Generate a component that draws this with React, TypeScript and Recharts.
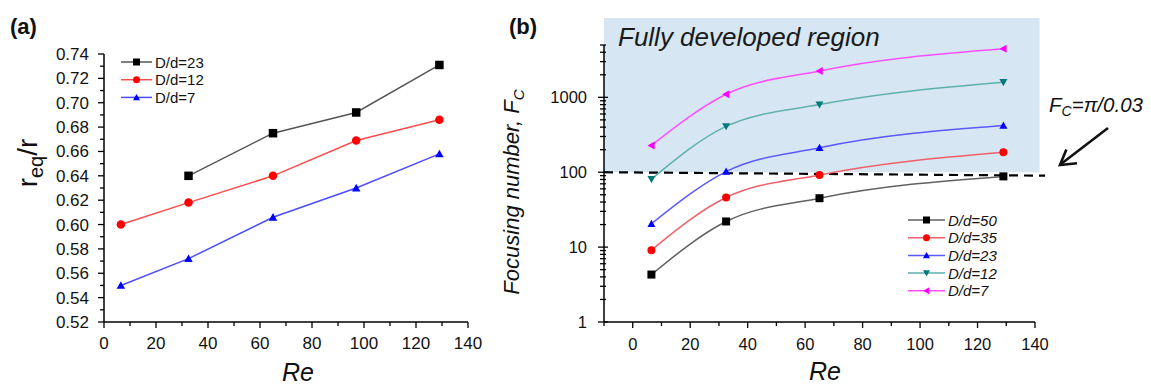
import { LineChart, Line, XAxis, YAxis, ReferenceArea, ReferenceLine, Legend } from "recharts";

// panel (a): r_eq/r vs Re
const reA = [6.5, 32.5, 65, 97, 129];
const dd23A = [null, 0.64, 0.675, 0.692, 0.731];
const dd12A = [0.6, 0.618, 0.64, 0.669, 0.686];
const dd7A = [0.55, 0.572, 0.606, 0.63, 0.658];

// panel (b): focusing number vs Re
const reB = [6.5, 32.5, 65, 129];
const dd50B = [4.3, 22, 45, 88];
const dd35B = [9.1, 46, 92, 185];
const dd23B = [20.5, 102, 212, 420];
const dd12B = [81, 410, 800, 1590];
const dd7B = [228, 1100, 2250, 4450];

const xTicksA = [0, 10, 20, 30, 40, 50, 60, 70, 80, 90, 100, 110, 120, 130, 140];
const yTicksA = [0.52, 0.53, 0.54, 0.55, 0.56, 0.57, 0.58, 0.59, 0.6, 0.61, 0.62, 0.63, 0.64, 0.65, 0.66, 0.67, 0.68, 0.69, 0.7, 0.71, 0.72, 0.73, 0.74];
const xTicksB = [-10, 0, 10, 20, 30, 40, 50, 60, 70, 80, 90, 100, 110, 120, 130, 140];
const yTicksB = [1, 2, 3, 4, 5, 6, 7, 8, 9, 10, 20, 30, 40, 50, 60, 70, 80, 90, 100, 200, 300, 400, 500, 600, 700, 800, 900, 1000, 2000, 3000, 4000, 5000];
const yMajorB = [1, 10, 100, 1000];

const FONT = '"Liberation Sans", Arial, sans-serif';

const seriesA = [
  { key: "d23", name: "D/d=23", values: dd23A, line: "#555555", mark: "#000000", shape: "square" },
  { key: "d12", name: "D/d=12", values: dd12A, line: "#ff4d4d", mark: "#ff0000", shape: "circle" },
  { key: "d7", name: "D/d=7", values: dd7A, line: "#4d4dff", mark: "#0000ff", shape: "up" },
];

const seriesB = [
  { key: "d50", name: "D/d=50", values: dd50B, line: "#606060", mark: "#000000", shape: "square" },
  { key: "d35", name: "D/d=35", values: dd35B, line: "#f0606a", mark: "#ff0000", shape: "circle" },
  { key: "d23", name: "D/d=23", values: dd23B, line: "#5a5aff", mark: "#0000ff", shape: "up" },
  { key: "d12", name: "D/d=12", values: dd12B, line: "#5fb0ad", mark: "#007a78", shape: "down" },
  { key: "d7", name: "D/d=7", values: dd7B, line: "#ff4dff", mark: "#ff00ff", shape: "left" },
];

const dataA = reA.map((re, i) => {
  const row: any = { re };
  seriesA.forEach((s) => (row[s.key] = s.values[i]));
  return row;
});

const dataB = reB.map((re, i) => {
  const row: any = { re };
  seriesB.forEach((s) => (row[s.key] = s.values[i]));
  return row;
});

const Marker = ({ cx, cy, shape, color, size }: any) => {
  const h = size / 2;
  if (shape === "square") return <rect x={cx - h} y={cy - h} width={size} height={size} fill={color} />;
  if (shape === "circle") return <circle cx={cx} cy={cy} r={h} fill={color} />;
  let pts = "";
  if (shape === "up") pts = `${cx},${cy - h} ${cx + h},${cy + h * 0.8} ${cx - h},${cy + h * 0.8}`;
  if (shape === "down") pts = `${cx},${cy + h} ${cx + h},${cy - h * 0.8} ${cx - h},${cy - h * 0.8}`;
  if (shape === "left") pts = `${cx - h},${cy} ${cx + h * 0.8},${cy - h} ${cx + h * 0.8},${cy + h}`;
  return <polygon points={pts} fill={color} />;
};

const makeDot = (s: any, size: number) => (p: any) => {
  if (p.cx == null || p.cy == null || p.value == null) return <g key={`${s.key}-${p.index}`} />;
  return (
    <g key={`${s.key}-${p.index}`}>
      <Marker cx={p.cx} cy={p.cy} shape={s.shape} color={s.mark} size={size} />
    </g>
  );
};

const XTickA = ({ x, y, payload }: any) => {
  const v = payload.value;
  const major = v % 20 === 0;
  return (
    <g>
      <line x1={x} x2={x} y1={y} y2={y + (major ? 6 : 4)} stroke="#000" strokeWidth={1.3} />
      {major && (
        <text x={x} y={y + 27} textAnchor="middle" fontSize={17} fontFamily={FONT} fill="#111">
          {v}
        </text>
      )}
    </g>
  );
};

const YTickA = ({ x, y, payload }: any) => {
  const v = payload.value;
  const major = Math.round(v * 100) % 2 === 0;
  return (
    <g>
      <line x1={x} x2={x - (major ? 6 : 4)} y1={y} y2={y} stroke="#000" strokeWidth={1.3} />
      {major && (
        <text x={x - 15} y={y + 6} textAnchor="end" fontSize={17} fontFamily={FONT} fill="#111">
          {v.toFixed(2)}
        </text>
      )}
    </g>
  );
};

const XTickB = ({ x, y, payload }: any) => {
  const v = payload.value;
  const major = v % 20 === 0;
  return (
    <g>
      <line x1={x} x2={x} y1={y} y2={y + (major ? 6 : 4)} stroke="#000" strokeWidth={1.3} />
      {major && (
        <text x={x} y={y + 28} textAnchor="middle" fontSize={16.5} fontFamily={FONT} fill="#111">
          {v}
        </text>
      )}
    </g>
  );
};

const YTickB = ({ x, y, payload }: any) => {
  const v = payload.value;
  const major = yMajorB.includes(v);
  return (
    <g>
      <line x1={x - (major ? 6 : 4)} x2={x + (major ? 4 : 2)} y1={y} y2={y} stroke="#000" strokeWidth={1.3} />
      {major && (
        <text x={x - 17} y={y + 6} textAnchor="end" fontSize={16.5} fontFamily={FONT} fill="#111">
          {v}
        </text>
      )}
    </g>
  );
};

const LegendBox = ({ series, italic, lineLen, size }: any) => (
  <svg width={110} height={series.length * 17.7 + 4} style={{ display: "block" }}>
    {series.map((s: any, i: number) => {
      const y = 9 + i * 17.7;
      return (
        <g key={s.key}>
          <line x1={0} x2={lineLen} y1={y} y2={y} stroke={s.line} strokeWidth={1.5} />
          <Marker cx={lineLen / 2} cy={y} shape={s.shape} color={s.mark} size={size} />
          <text
            x={lineLen + 3}
            y={y + 5.5}
            fontSize={15}
            fontStyle={italic ? "italic" : "normal"}
            fontFamily={FONT}
            fill="#111"
          >
            {s.name}
          </text>
        </g>
      );
    })}
  </svg>
);

export default function App() {
  return (
    <div style={{ position: "absolute", left: 0, top: 0, width: 1151, height: 386, background: "#fff" }}>
      <div style={{ position: "absolute", left: 0, top: 0 }}>
        <LineChart width={500} height={386} data={dataA} margin={{ top: 54, right: 32, left: 0, bottom: 0 }}>
          <XAxis
            dataKey="re"
            type="number"
            domain={[0, 140]}
            ticks={xTicksA}
            interval={0}
            height={64}
            tickSize={0}
            tickMargin={0}
            tickLine={false}
            tick={<XTickA />}
            axisLine={{ stroke: "#000", strokeWidth: 1.5 }}
            allowDataOverflow
          />
          <YAxis
            type="number"
            domain={[0.52, 0.74]}
            ticks={yTicksA}
            interval={0}
            width={104}
            tickSize={0}
            tickMargin={0}
            tickLine={false}
            tick={<YTickA />}
            axisLine={{ stroke: "#000", strokeWidth: 1.5 }}
            allowDataOverflow
          />
          {seriesA.map((s) => (
            <Line
              key={s.key}
              dataKey={s.key}
              name={s.name}
              type="linear"
              stroke={s.line}
              strokeWidth={1.5}
              dot={makeDot(s, 8.5)}
              activeDot={false}
              isAnimationActive={false}
            />
          ))}
          <Legend
            layout="vertical"
            align="center"
            verticalAlign="middle"
            wrapperStyle={{ left: 120.7, top: 53.3, width: 110, right: "auto", bottom: "auto" }}
            content={() => <LegendBox series={seriesA} italic={false} lineLen={31} size={7} />}
          />
        </LineChart>
      </div>

      <div style={{ position: "absolute", left: 480, top: 0 }}>
        <LineChart width={671} height={386} data={dataB} margin={{ top: 45, right: 116, left: 0, bottom: 0 }}>
          <ReferenceArea
            x1={-10}
            x2={141.6}
            y1={100}
            y2={11500}
            fill="#d6e7f3"
            fillOpacity={1}
            stroke="none"
            ifOverflow="visible"
          />
          <XAxis
            dataKey="re"
            type="number"
            domain={[-10, 140]}
            ticks={xTicksB}
            interval={0}
            height={64}
            tickSize={0}
            tickMargin={0}
            tickLine={false}
            tick={<XTickB />}
            axisLine={{ stroke: "#000", strokeWidth: 1.5 }}
            allowDataOverflow
          />
          <YAxis
            type="number"
            scale="log"
            domain={[1, 5000]}
            ticks={yTicksB}
            interval={0}
            width={124}
            tickSize={0}
            tickMargin={0}
            tickLine={false}
            tick={<YTickB />}
            axisLine={{ stroke: "#000", strokeWidth: 1.5 }}
            allowDataOverflow
          />
          <ReferenceLine
            segment={[
              { x: -10, y: 100 },
              { x: 143.5, y: 90 },
            ]}
            stroke="#000"
            strokeWidth={2.2}
            strokeDasharray="9 6"
            ifOverflow="visible"
          />
          {seriesB.map((s) => (
            <Line
              key={s.key}
              dataKey={s.key}
              name={s.name}
              type="monotone"
              stroke={s.line}
              strokeWidth={1.5}
              dot={makeDot(s, 8)}
              activeDot={false}
              isAnimationActive={false}
            />
          ))}
          <Legend
            layout="vertical"
            align="center"
            verticalAlign="middle"
            wrapperStyle={{ left: 428.3, top: 211, width: 110, right: "auto", bottom: "auto" }}
            content={() => <LegendBox series={seriesB} italic={true} lineLen={37} size={7} />}
          />
        </LineChart>
      </div>

      {/* titles and annotations */}
      <svg
        width={1151}
        height={386}
        style={{ position: "absolute", left: 0, top: 0, pointerEvents: "none" }}
        fontFamily={FONT}
      >
        <text x={10} y={34} fontSize={22} fontWeight="bold" fill="#111">(a)</text>
        <text x={509} y={34} fontSize={22} fontWeight="bold" fill="#111">(b)</text>

        <text transform="translate(37,163) rotate(-90)" textAnchor="middle" fontSize={28} fill="#111">
          r<tspan fontSize={20} dy={6}>eq</tspan>
          <tspan dy={-6}>/r</tspan>
        </text>
        <text x={298} y={381} textAnchor="middle" fontSize={25} fontStyle="italic" fill="#111">Re</text>

        <text transform="translate(519,192) rotate(-90)" textAnchor="middle" fontSize={22} fontStyle="italic" fill="#111">
          Focusing number, F<tspan fontSize={15} dy={5}>C</tspan>
        </text>
        <text x={825} y={380} textAnchor="middle" fontSize={25} fontStyle="italic" fill="#111">Re</text>

        <text x={618} y={46} fontSize={26} fontStyle="italic" fill="#1a1a1a">Fully developed region</text>

        <text x={1049} y={112} fontSize={20.5} fontStyle="italic" fill="#111">
          F<tspan fontSize={14} dy={4}>C</tspan>
          <tspan dy={-4}>=π/0.03</tspan>
        </text>
        <line x1={1108} y1={128} x2={1061} y2={164} stroke="#111" strokeWidth={2.6} />
        <polyline points="1077,163.2 1060,165 1066.4,149.6" fill="none" stroke="#111" strokeWidth={2.6} />
      </svg>
    </div>
  );
}
